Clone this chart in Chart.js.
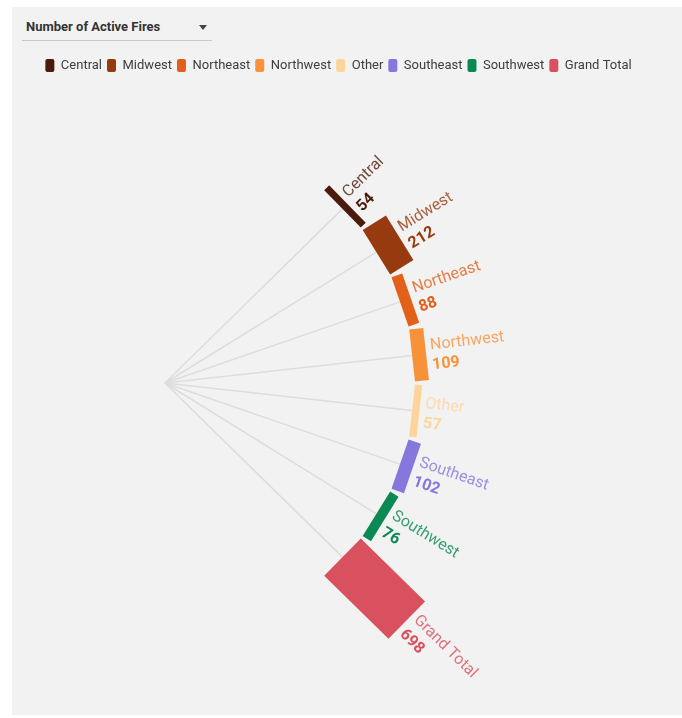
<!DOCTYPE html>
<html>
<head>
<meta charset="utf-8">
<title>Number of Active Fires</title>
<script src="https://cdn.jsdelivr.net/npm/chart.js@4.4.1/dist/chart.umd.min.js"></script>
<style>
  body { margin: 0; background: #fff; font-family: Roboto, "Noto Sans", sans-serif; }
  #panel { position: absolute; left: 12px; top: 7px; width: 670px; height: 708px; background: #f2f2f2; }
  #metric { position: absolute; left: 14px; top: 12px; font-size: 13px; font-weight: bold; color: #333; }
  #caret { position: absolute; left: 187px; top: 18px; width: 0; height: 0;
           border-left: 4px solid transparent; border-right: 4px solid transparent; border-top: 5px solid #444; }
  #rule { position: absolute; left: 10px; top: 33px; width: 190px; height: 1px; background: #c9c9c9; }
  #fan { position: absolute; left: 0; top: 39px; }
</style>
</head>
<body>
<div id="panel">
  <div id="metric">Number of Active Fires</div>
  <div id="caret"></div>
  <div id="rule"></div>
  <canvas id="fan" width="670" height="669"></canvas>
</div>
<script>
/* Dane: regiony i liczba aktywnych pożarów */
var regions = ['Central', 'Midwest', 'Northeast', 'Northwest', 'Other', 'Southeast', 'Southwest', 'Grand Total'];
var fires = [54, 212, 88, 109, 57, 102, 76, 698];

var palette = ['#4a1a0c', '#983a10', '#e2601a', '#f7923a', '#fdd59a', '#8577dc', '#0a8a52', '#d9505e'];

/* Geometria wachlarza (piksele płótna) */
var HUB = { x: 153, y: 337 };   // punkt zbiegu promieni
var INNER = 250;                // promień wewnętrznych narożników słupków
var FIRST = 44.45, STEP = 12.7, HALF = 6.0;   // stopnie
var PX_PER_FIRE = 0.129;
var DEG = Math.PI / 180;

function angleOf(i) {
    return (FIRST - STEP * i) * DEG;
}

// środek wewnętrznej cięciwy słupka
function innerMid(i) {
    var th = angleOf(i);
    var d = INNER * Math.cos(HALF * DEG);
    return { x: d * Math.cos(th), y: d * Math.sin(th) };
}

// narożniki prostokąta: cięciwa na łuku, grubość rośnie z wartością
function barCorners(i) {
    var th = angleOf(i);
    var m = innerMid(i);
    var h = INNER * Math.sin(HALF * DEG);
    var t = fires[i] * PX_PER_FIRE;
    var ux = Math.cos(th), uy = Math.sin(th);
    var nx = Math.sin(th), ny = -Math.cos(th);
    var a = { x: m.x - nx * h, y: m.y - ny * h };
    var b = { x: m.x + nx * h, y: m.y + ny * h };
    return [
        a,
        b,
        { x: b.x + ux * t, y: b.y + uy * t },
        { x: a.x + ux * t, y: a.y + uy * t },
        a
    ];
}

function withAlpha(hex, alpha) {
    var n = parseInt(hex.slice(1), 16);
    return 'rgba(' + (n >> 16) + ',' + ((n >> 8) & 255) + ',' + (n & 255) + ',' + alpha + ')';
}

var barSets = regions.map(function (name, i) {
    return {
        label: name,
        data: barCorners(i),
        backgroundColor: palette[i],
        borderColor: palette[i],
        borderWidth: 0,
        fill: 'shape',
        pointRadius: 0,
        tension: 0,
        order: 0
    };
});

var raySets = regions.map(function (name, i) {
    return {
        label: name + ' ray',
        data: [{ x: 0, y: 0 }, innerMid(i)],
        borderColor: '#dddddd',
        borderWidth: 1.5,
        fill: false,
        pointRadius: 0,
        order: 1
    };
});

/* Skale dopasowane tak, że 1 jednostka = 1 piksel, zero w punkcie zbiegu */
var hubScales = {
    id: 'hubScales',
    afterLayout: function (chart) {
        var a = chart.chartArea;
        var x = chart.scales.x, y = chart.scales.y;
        x.min = a.left - HUB.x;
        x.max = a.right - HUB.x;
        y.min = HUB.y - a.bottom;
        y.max = HUB.y - a.top;
        x.configure();
        y.configure();
    }
};

/* Etykiety wzdłuż promienia: nazwa i wartość */
var fanLabels = {
    id: 'fanLabels',
    afterDatasetsDraw: function (chart) {
        var ctx = chart.ctx;
        var x = chart.scales.x, y = chart.scales.y;
        regions.forEach(function (name, i) {
            var th = angleOf(i);
            var r = INNER * Math.cos(HALF * DEG) + fires[i] * PX_PER_FIRE + 5;
            var px = x.getPixelForValue(r * Math.cos(th));
            var py = y.getPixelForValue(r * Math.sin(th));
            ctx.save();
            ctx.translate(px, py);
            ctx.rotate(-th);
            ctx.textAlign = 'left';
            ctx.textBaseline = 'alphabetic';
            ctx.font = '16px Roboto';
            ctx.fillStyle = withAlpha(palette[i], 0.8);
            ctx.fillText(name, 0, -4);
            ctx.font = 'bold 16px Roboto';
            ctx.fillStyle = palette[i];
            ctx.fillText(String(fires[i]), 0, 16);
            ctx.restore();
        });
    }
};

var ctxFan = document.getElementById('fan');

var chartFan = new Chart(ctxFan, {
    type: 'line',
    data: {
        datasets: barSets.concat(raySets)
    },
    options: {
        responsive: false,
        maintainAspectRatio: false,
        animation: false,
        layout: { padding: { top: 8, right: 17 } },
        scales: {
            x: { type: 'linear', display: false },
            y: { type: 'linear', display: false }
        },
        plugins: {
            tooltip: { enabled: false },
            legend: {
                position: 'top',
                labels: {
                    filter: function (item) { return item.datasetIndex < regions.length; },
                    boxWidth: 9,
                    boxHeight: 13,
                    useBorderRadius: true,
                    borderRadius: 2,
                    padding: 5,
                    color: '#3d3d3d',
                    font: { family: 'Roboto', size: 13 }
                }
            }
        }
    },
    plugins: [hubScales, fanLabels]
});
</script>
</body>
</html>
